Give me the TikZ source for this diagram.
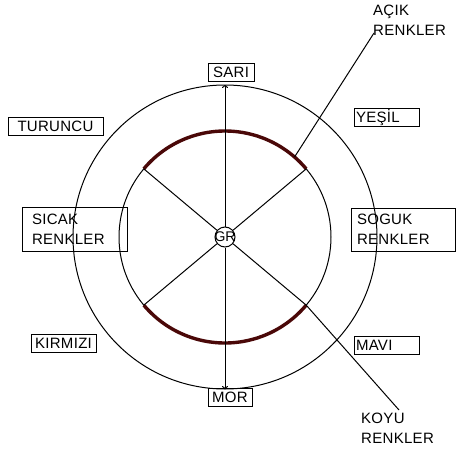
\documentclass[tikz,border=0pt]{standalone}
\usepackage{fontspec}
\setmainfont{Liberation Sans}
\usetikzlibrary{calc,arrows.meta}
\definecolor{darkarc}{HTML}{4A0808}
\begin{document}
\begin{tikzpicture}[x=1pt,y=-1pt,
  lbl/.style={font=\fontsize{15}{20}\selectfont\addfontfeature{LetterSpace=2},inner sep=0pt},
  box/.style={lbl,draw,line width=1pt,minimum height=18pt},
  ln/.style={line width=1pt},
  thick arc/.style={line width=3.4pt,darkarc}]
\useasboundingbox (0,0) rectangle (456,458);
\coordinate (c) at (225,237);
% circles
\draw[ln] (c) circle[radius=152pt];
\draw[ln] (c) circle[radius=106pt];
% thick arcs
\draw[thick arc] ($(c)+(140:106pt)$) arc[start angle=140,end angle=40,radius=106pt];
\draw[thick arc] ($(c)+(220:106pt)$) arc[start angle=220,end angle=320,radius=106pt];
% centre
\node[ln,draw,circle,minimum size=20pt,inner sep=0pt] (gr) at (c) {};
\node[font=\fontsize{14}{14}\selectfont,inner sep=0pt] (grt) at (c) {GR};
% spoke ends
\coordinate (s40) at ($(c)+(40:106pt)$);
\coordinate (s140) at ($(c)+(140:106pt)$);
\coordinate (s220) at ($(c)+(220:106pt)$);
\coordinate (s320) at ($(c)+(320:106pt)$);
\coordinate (s49) at ($(c)+(49:106pt)$);
\coordinate (top) at ($(c)+(90:152pt)$);
\coordinate (bot) at ($(c)+(270:152pt)$);
\draw[ln] (gr) -- (s40);
\draw[ln] (gr) -- (s140);
\draw[ln] (gr) -- (s220);
\draw[ln] (gr) -- (s320);
\draw[ln,-{To[length=3pt,width=6pt]}] (gr) -- (top);
\draw[ln,-{To[length=3pt,width=6pt]}] (gr) -- (bot);
% boxes
\node[box,minimum width=46pt] (sari) at (231,72.5) {SARI};
\node[box,minimum width=44pt] (mor) at (230,397) {MOR};
\node[box,minimum width=95pt] (turuncu) at (55.5,126) {TURUNCU};
\node[box,minimum width=65pt] (kirmizi) at (63.5,343.5) {KIRMIZI};
\node[box,text width=61pt,inner xsep=2pt,align=left] (yesil) at (386.5,117.5) {YEŞİL};
\node[box,text width=61pt,inner xsep=2pt,align=left] (mavi) at (386.5,345) {MAVI};
\node[box,text width=85pt,inner xsep=0pt,inner ysep=2pt,align=left,minimum width=105pt,minimum height=44pt] (sicak) at (74.5,229) {SICAK\\RENKLER};
\node[box,text width=92pt,inner xsep=0pt,inner ysep=2pt,align=left,minimum width=104pt,minimum height=43pt] (soguk) at (403,229.5) {SOGUK\\RENKLER};
% free labels
\node[lbl,align=left,anchor=north west] (acik) at (373,5) {AÇIK\\RENKLER};
\node[lbl,align=left,anchor=north west] (koyu) at (361,413) {KOYU\\RENKLER};
% leaders
\coordinate (acikend) at (374,33);
\coordinate (koyuend) at (399,410);
\draw[ln] (s49) -- (acikend);
\draw[ln] (s320) -- (koyuend);
\end{tikzpicture}
\end{document}
